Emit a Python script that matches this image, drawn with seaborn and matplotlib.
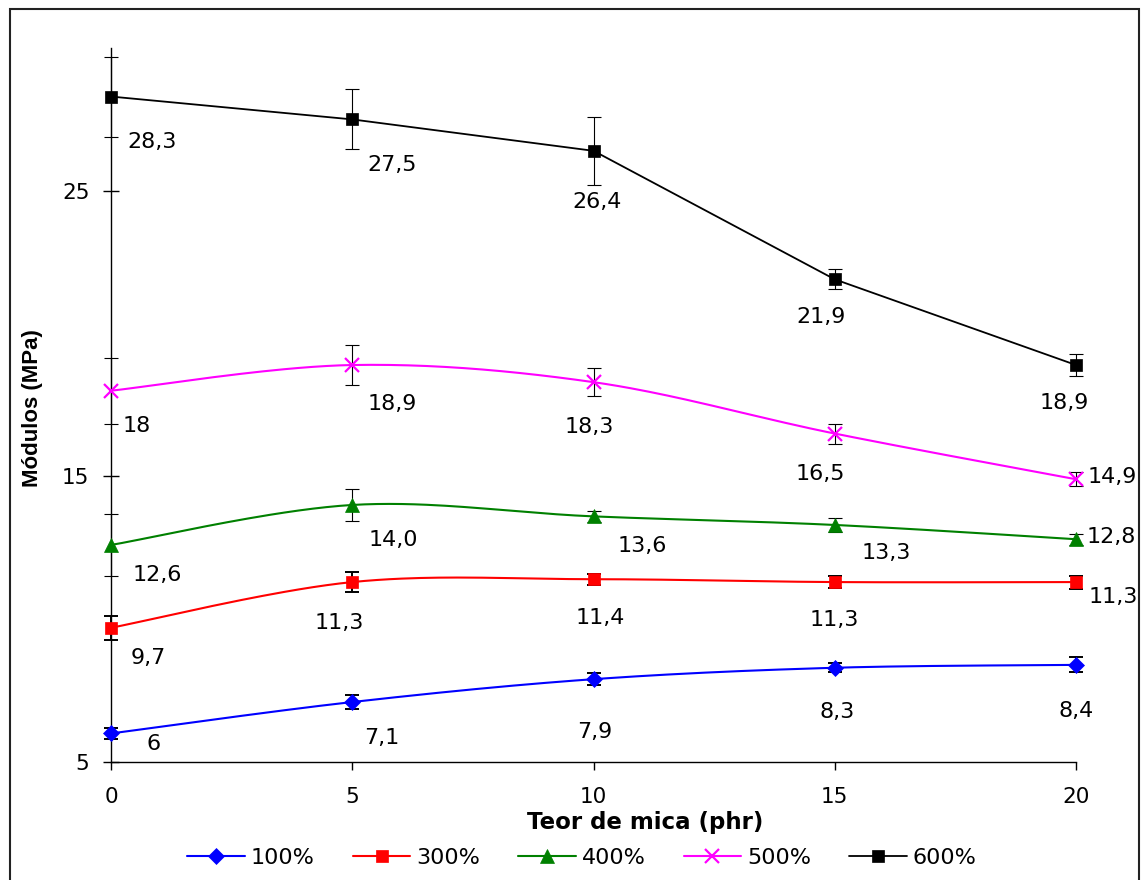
import numpy as np
import pandas as pd
import matplotlib
matplotlib.use("Agg")
import matplotlib.pyplot as plt
from matplotlib.lines import Line2D
from matplotlib.patches import Rectangle
import seaborn as sns

# ---- data -------------------------------------------------------------
mica_phr = [0, 5, 10, 15, 20]
series_names = ["100%", "300%", "400%", "500%", "600%"]

# data labels as printed; the plotted values are parsed from them
labels_100 = ["6", "7,1", "7,9", "8,3", "8,4"]
labels_300 = ["9,7", "11,3", "11,4", "11,3", "11,3"]
labels_400 = ["12,6", "14,0", "13,6", "13,3", "12,8"]
labels_500 = ["18", "18,9", "18,3", "16,5", "14,9"]
labels_600 = ["28,3", "27,5", "26,4", "21,9", "18,9"]

# standard deviations (MPa)
err_100 = [0.20, 0.25, 0.20, 0.15, 0.26]
err_300 = [0.42, 0.35, 0.20, 0.22, 0.23]
err_400 = [1.10, 0.55, 0.20, 0.26, 0.20]
err_500 = [1.15, 0.70, 0.48, 0.35, 0.25]
err_600 = [1.40, 1.05, 1.20, 0.35, 0.37]

all_labels = [labels_100, labels_300, labels_400, labels_500, labels_600]
all_errs = [err_100, err_300, err_400, err_500, err_600]

# ---- styles -----------------------------------------------------------
colors = ["#0000FF", "#FF0000", "#008000", "#FF00FF", "#000000"]
markers = ["D", "s", "^", "x", "s"]
marker_sizes = [7.8, 8.0, 9.8, 10, 8.4]
line_widths = [1.5, 1.5, 1.5, 1.5, 1.3]
smoothed = [True, True, True, True, False]
err_widths = [1.4, 1.4, 0.8, 0.8, 0.8]

# label offsets in pixels (dx right, dy down) from each point
label_offsets = [
    [(43, 11), (29, 36), (1, 53), (2, 44), (0, 46)],
    [(37, 30), (-13, 41), (7, 39), (-1, 38), (37, 15)],
    [(46, 30), (41, 35), (49, 30), (52, 28), (35, -2)],
    [(26, 35), (40, 39), (-4, 45), (-14, 40), (36, -2)],
    [(41, 45), (40, 46), (4, 51), (-14, 38), (-12, 38)],
]


def smooth_curve(xs, ys, n=40):
    """Piecewise cubic Bezier through the points (spreadsheet-style smoothing)."""
    P = np.column_stack([xs, ys]).astype(float)
    pieces = []
    for i in range(len(P) - 1):
        p0 = P[i - 1] if i > 0 else P[i]
        p1, p2 = P[i], P[i + 1]
        p3 = P[i + 2] if i + 2 < len(P) else P[i + 1]
        c1 = p1 + (p2 - p0) / 6.0
        c2 = p2 - (p3 - p1) / 6.0
        t = np.linspace(0, 1, n)[:, None]
        seg = (1 - t) ** 3 * p1 + 3 * (1 - t) ** 2 * t * c1 + 3 * (1 - t) * t ** 2 * c2 + t ** 3 * p2
        pieces.append(seg if i == 0 else seg[1:])
    return np.vstack(pieces)


sns.set_theme(style="white")
plt.rcParams["font.family"] = ["DejaVu Sans"]
plt.rcParams["text.color"] = "black"
plt.rcParams["axes.labelcolor"] = "black"
plt.rcParams["xtick.color"] = "black"
plt.rcParams["ytick.color"] = "black"

W, H = 1141, 880
fig = plt.figure(figsize=(W / 100, H / 100), dpi=100)
fig.patch.set_facecolor("white")
ax = fig.add_axes([111 / W, (H - 762) / H, (1076 - 111) / W, (762 - 48) / H])
ax.set_facecolor("white")

handles = []
for name, labs, errs, col, mk, ms, lw, sm, ew, offs in zip(
        series_names, all_labels, all_errs, colors, markers, marker_sizes,
        line_widths, smoothed, err_widths, label_offsets):
    values = [float(s.replace(",", ".")) for s in labs]
    if sm:
        pts = smooth_curve(mica_phr, values)
    else:
        pts = np.column_stack([mica_phr, values]).astype(float)
    curve = pd.DataFrame({"x": pts[:, 0], "y": pts[:, 1]})
    sns.lineplot(data=curve, x="x", y="y", ax=ax, color=col, linewidth=lw,
                 sort=False, estimator=None, legend=False, zorder=2)

    eb = ax.errorbar(mica_phr, values, yerr=errs, fmt="none", ecolor="black",
                     elinewidth=ew, capsize=5, capthick=ew, zorder=3)
    for art in list(eb.lines[1]) + list(eb.lines[2]):
        art.set_clip_on(False)

    mkw = dict(marker=mk, markersize=ms, color=col, markerfacecolor=col,
               markeredgecolor=col, markeredgewidth=1.6 if mk == "x" else 0.5)
    ax.plot(mica_phr, values, linestyle="none", clip_on=False, zorder=4, **mkw)
    handles.append(Line2D([], [], linewidth=lw, **mkw))

    for xv, yv, txt, (dx, dy) in zip(mica_phr, values, labs, offs):
        ax.annotate(txt, (xv, yv), xytext=(dx, -dy), textcoords="offset pixels",
                    ha="center", va="center", fontsize=16, color="black",
                    annotation_clip=False, zorder=5)

ax.set_xlim(0, 20)
ax.set_ylim(5, 30)
ax.set_xticks(mica_phr)
ax.set_yticks([5, 15, 25])
ax.tick_params(axis="y", direction="inout", length=12, width=1, pad=9.5,
               labelsize=15.5, left=True)
ax.tick_params(axis="x", direction="out", length=6, width=1, pad=12,
               labelsize=15.5, bottom=True)
sns.despine(ax=ax)
for side in ("left", "bottom"):
    ax.spines[side].set_color("black")
    ax.spines[side].set_linewidth(1.0)
ax.grid(False)

ax.set_xlabel("Teor de mica (phr)", fontsize=16.5, fontweight="bold")
ax.xaxis.set_label_coords((645 - 111) / 965, (762 - 822) / 714)
ax.xaxis.label.set_va("center")
ax.set_ylabel("Módulos (MPa)", fontsize=16, fontweight="bold",
              family=["Liberation Sans", "DejaVu Sans"])
ax.yaxis.set_label_coords((33 - 111) / 965, (762 - 408) / 714)
ax.yaxis.label.set_va("center")

fig.legend(handles, series_names, loc="center",
           bbox_to_anchor=(582 / W, 1 - 858 / H), ncol=5, frameon=False,
           fontsize=16, handlelength=2.6, handletextpad=0.27,
           columnspacing=1.7, borderaxespad=0)

# outer chart border
fig.patches.append(Rectangle((10 / W, -0.02), (1139 - 10) / W, 1 - 9 / H + 0.02,
                             transform=fig.transFigure, fill=False,
                             edgecolor="#222222", linewidth=1.5))

fig.savefig("out.png", dpi=100, facecolor="white")
